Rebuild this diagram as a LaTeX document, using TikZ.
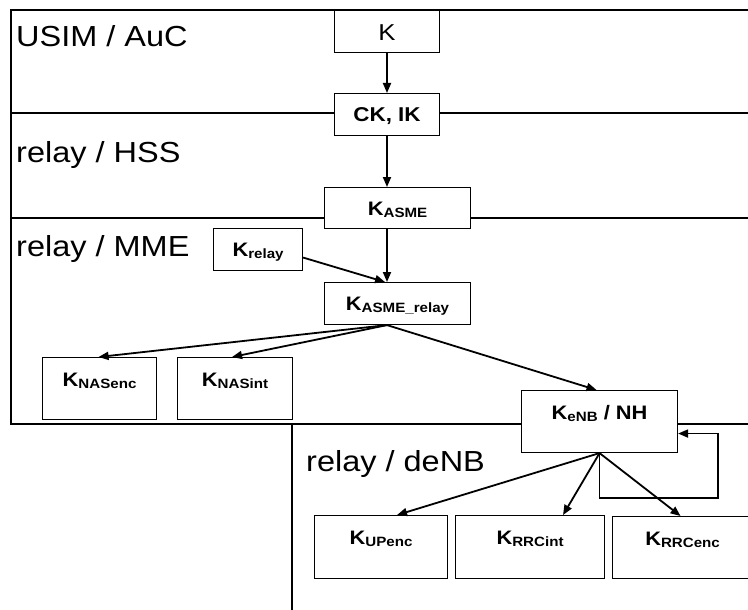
\documentclass[tikz,border=0pt]{standalone}
\usepackage{fontspec}
\setmainfont{Liberation Sans}[FakeStretch=1.12]
\usetikzlibrary{arrows.meta,calc}

% key name: bold K with a bold, slightly lowered subscript
\newcommand{\keyname}[1]{{\fontsize{19.5}{19.5}\selectfont\bfseries K}\raisebox{-1.5pt}{\fontsize{13.5}{13.5}\selectfont\bfseries #1}}

\begin{document}
\begin{tikzpicture}[x=1pt,y=-1pt,
  region/.style={line width=1.4pt, draw=black},
  keybox/.style={draw=black, fill=white, line width=1.1pt, inner sep=0pt, anchor=north west},
  shortbox/.style={keybox, text height=28pt, text depth=14pt},
  tallbox/.style={keybox, text height=29pt, text depth=33pt},
  zonelabel/.style={anchor=base west, inner sep=0pt, font=\fontsize{29}{29}\selectfont},
  arr/.style={line width=1.8pt, -{Triangle[length=10pt,width=8pt]}}
]
\clip (0,0) rectangle (748,610);
\fill[white] (0,0) rectangle (748,610);

% domain borders
\draw[region] (748,10) -- (11,10) -- (11,424) -- (748,424);
\draw[region] (11,113) -- (748,113);
\draw[region] (11,218) -- (748,218);
\draw[region] (292,424) -- (292,612);

% domain names
\node[zonelabel] (usim) at (16,47) {USIM / AuC};
\node[zonelabel] (hss)  at (16,163) {relay / HSS};
\node[zonelabel] (mme)  at (16,256) {relay / MME};
\node[zonelabel] (denb) at (306,471) {relay / deNB};

% key boxes
\node[shortbox, minimum width=105pt, text height=30pt, text depth=12pt, font=\fontsize{23}{23}\selectfont] (k) at (334,10) {K};
\node[shortbox, minimum width=105pt, font=\fontsize{20}{20}\selectfont\bfseries] (ckik) at (334,93) {CK, IK};
\node[shortbox, minimum width=146pt, text depth=13pt] (kasme) at (324,187) {\keyname{ASME}};
\node[shortbox, minimum width=89pt] (krelay) at (213,228) {\keyname{relay}};
\node[shortbox, minimum width=146pt] (kasmerelay) at (324,282) {\keyname{ASME\_relay}};
\node[tallbox, minimum width=114pt] (knasenc) at (42,357) {\keyname{NASenc}};
\node[tallbox, minimum width=115pt] (knasint) at (177,357) {\keyname{NASint}};
\node[tallbox, minimum width=156pt] (kenb) at (521,390) {\keyname{eNB}\fontsize{19.5}{19.5}\selectfont\bfseries{} / NH};
\node[tallbox, minimum width=133pt, text depth=34pt] (kupenc) at (314,515) {\keyname{UPenc}};
\node[tallbox, minimum width=149pt, text depth=34pt] (krrcint) at (455,515) {\keyname{RRCint}};
\node[tallbox, minimum width=140pt] (krrcenc) at (612,516) {\keyname{RRCenc}};

% key derivation chain
\coordinate (spine) at (387,0);
\draw[arr] (spine |- k.south) -- (spine |- ckik.north);
\draw[arr] (spine |- ckik.south) -- (spine |- kasme.north);
\draw[arr] (spine |- kasme.south) -- (spine |- kasmerelay.north);
\draw[arr] ([yshift=-8pt]krelay.east) -- ([xshift=-2pt]spine |- kasmerelay.north);

\coordinate (fork) at (spine |- kasmerelay.south);
\draw[arr] (fork) -- ([xshift=-1pt]knasenc.north);
\draw[arr] (fork) -- ([xshift=-3pt]knasint.north);
\draw[arr] (fork) -- ([xshift=-3pt]kenb.north);

\draw[arr] (kenb.south) -- ([xshift=16pt]kupenc.north);
\draw[arr] (kenb.south) -- ([xshift=33pt]krrcint.north);
\draw[arr] (kenb.south) -- ([xshift=-2pt]krrcenc.north);
\coordinate (loop) at (718,498);
\draw[arr] (kenb.south) |- (loop) |- ([yshift=-12pt]kenb.east);
\end{tikzpicture}
\end{document}
